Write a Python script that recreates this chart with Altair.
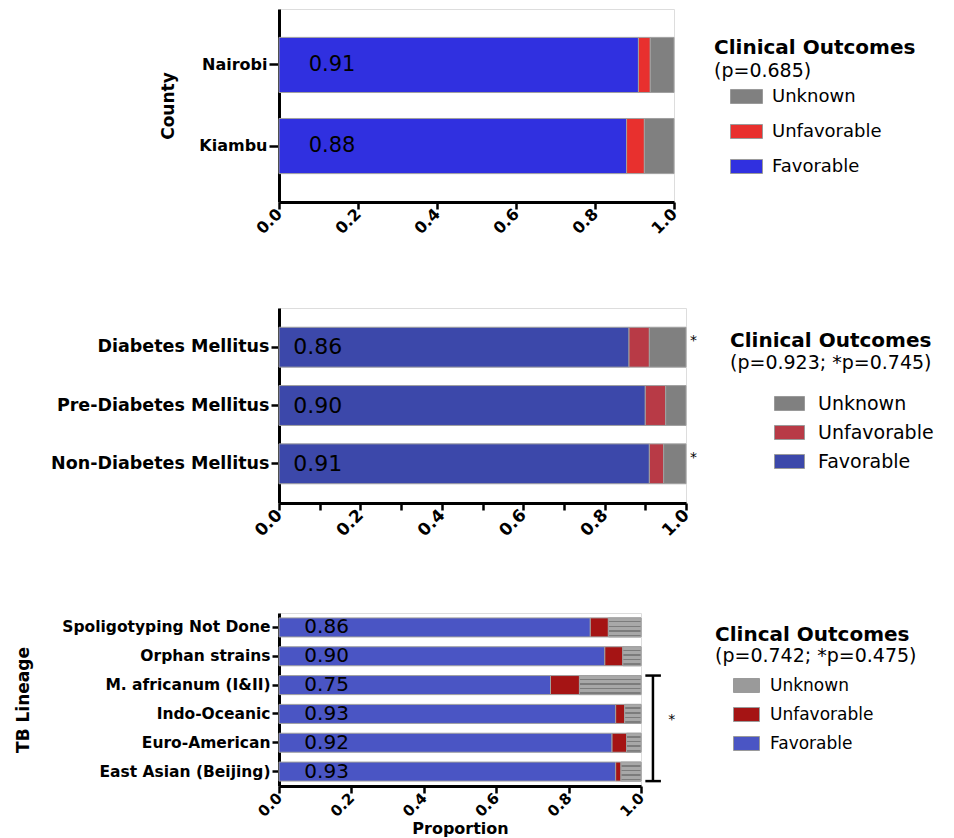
import altair as alt
import pandas as pd

# ---------------- data ----------------
legend_order = ["Unknown", "Unfavorable", "Favorable"]
stack_order = ["Favorable", "Unfavorable", "Unknown"]

county_cats = ["Nairobi", "Kiambu"]
county_fav = [0.91, 0.88]
county_unfav = [0.03, 0.045]
county_unk = [0.06, 0.075]

dm_cats = ["Diabetes Mellitus", "Pre-Diabetes Mellitus", "Non-Diabetes Mellitus"]
dm_fav = [0.86, 0.90, 0.91]
dm_unfav = [0.05, 0.05, 0.035]
dm_unk = [0.09, 0.05, 0.055]
dm_starred = ["Diabetes Mellitus", "Non-Diabetes Mellitus"]

tb_cats = ["Spoligotyping Not Done", "Orphan strains", "M. africanum (I&II)",
           "Indo-Oceanic", "Euro-American\u00a0", "East Asian (Beijing)"]
tb_fav = [0.86, 0.90, 0.75, 0.93, 0.92, 0.93]
tb_unfav = [0.05, 0.05, 0.08, 0.025, 0.04, 0.015]
tb_unk = [0.09, 0.05, 0.17, 0.045, 0.04, 0.055]
tb_bracket = ["M. africanum (I&II)", "East Asian (Beijing)"]

p_county = "(p=0.685)"
p_dm = "(p=0.923; *p=0.745)"
p_tb = "(p=0.742; *p=0.475)"

FONT = "DejaVu Sans"


def long_df(cats, fav, unfav, unk):
    rows = []
    for c, f, u, k in zip(cats, fav, unfav, unk):
        start = 0.0
        for name, v in zip(stack_order, [f, u, k]):
            rows.append({"cat": c, "outcome": name, "start": start,
                         "end": start + v, "value": v,
                         "ord": stack_order.index(name)})
            start += v
    return pd.DataFrame(rows)


def x_axis(minor, label_size, title=None):
    if minor:
        vals = [i / 10 for i in range(11)]
    else:
        vals = [i / 5 for i in range(6)]
    return alt.Axis(values=vals,
                    labelExpr="round(datum.value*10)%2==0 ? format(datum.value,'.1f') : ''",
                    labelAngle=-45, labelAlign="right", labelBaseline="middle",
                    labelFont=FONT, labelFontWeight="bold", labelFontSize=label_size,
                    labelColor="black", labelPadding=2,
                    domainColor="black", domainWidth=3, tickColor="black",
                    tickWidth=2.5, tickSize=7, grid=False,
                    title=title, titleFont=FONT, titleFontWeight="bold",
                    titleFontSize=16, titleColor="black", titlePadding=1)


def y_axis(label_size, tick_size, title=None, title_x=0, height=100):
    if title:
        kw = dict(title=title, titleX=title_x, titleY=height / 2,
                  titleBaseline="middle", titleFont=FONT,
                  titleFontWeight="bold", titleFontSize=17, titleColor="black")
    else:
        kw = dict(title=None)
    return alt.Axis(labelFont=FONT, labelFontWeight="bold",
                    labelFontSize=label_size, labelColor="black",
                    labelPadding=2, domainColor="black", domainWidth=3,
                    tickColor="black", tickWidth=2.5, tickSize=tick_size,
                    grid=False, labelLimit=400, **kw)


def ysc(cats, pin=None, pout=None):
    if pin is None:
        return alt.Scale(domain=cats)
    return alt.Scale(domain=cats, paddingInner=pin, paddingOuter=pout)


def panel(cats, fav, unfav, unk, colors, width, height, pin, pout,
          ylab_size, ytick, xlab_size, minor, leg, ptext, pxy, val_x, val_size,
          y_title=None, y_title_x=0, x_title=None):
    df = long_df(cats, fav, unfav, unk)
    yenc = alt.Y("cat:N", scale=ysc(cats, pin, pout),
                 axis=y_axis(ylab_size, ytick, y_title, y_title_x, height))
    xenc = alt.X("start:Q", scale=alt.Scale(domain=[0, 1], nice=False),
                 axis=x_axis(minor, xlab_size, x_title))
    bars = alt.Chart(df).mark_bar(stroke="#a0a0a0", strokeWidth=1).encode(
        y=yenc, x=xenc, x2="end:Q",
        color=alt.Color("outcome:N",
                        scale=alt.Scale(domain=legend_order, range=colors),
                        legend=alt.Legend(**leg)),
        order=alt.Order("ord:Q"),
    )
    labels = alt.Chart(df[df["outcome"] == "Favorable"]).mark_text(
        align="left", baseline="middle", font=FONT, fontSize=val_size,
        color="black").encode(
        y=alt.Y("cat:N", scale=ysc(cats)), x=alt.datum(val_x),
        text=alt.Text("value:Q", format=".2f"))
    ptxt = alt.Chart(pd.DataFrame({"t": [ptext]})).mark_text(
        align="left", baseline="middle", font=FONT, fontSize=19,
        color="black").encode(x=alt.value(pxy[0]), y=alt.value(pxy[1]),
                              text="t:N")
    return df, [bars, labels, ptxt]


def legend(x, y, sym_w, sym_h, sym_off, lab_off, row_pad, lab_size, title,
           title_pad):
    r = sym_h / sym_w
    path = f"M-1,-{r:.3f}L1,-{r:.3f}L1,{r:.3f}L-1,{r:.3f}Z"
    return dict(orient="none", legendX=x, legendY=y, title=title,
                titleFont=FONT, titleFontWeight="bold", titleFontSize=20,
                titleColor="black", titlePadding=title_pad, titleLimit=400,
                labelFont=FONT, labelFontSize=lab_size, labelColor="black",
                labelLimit=300,
                symbolType=path, symbolSize=sym_w * sym_w,
                symbolOffset=sym_off, labelOffset=lab_off, rowPadding=row_pad,
                symbolStrokeColor="#9a9a9a", symbolStrokeWidth=1,
                symbolOpacity=1)


RES = dict(color="independent", x="independent", y="independent")

# ---------------- top panel ----------------
W1, H1 = 395, 193
_, top_layers = panel(
    county_cats, county_fav, county_unfav, county_unk,
    ["#808080", "#e8302e", "#3030e0"], W1, H1, 0.32, 0.35, 16, 10, 16, False,
    legend(435, 29, 32, 14, 16, 9, 9, 18, "Clinical Outcomes", 22),
    p_county, (435, 62), 0.075, 21, y_title="County", y_title_x=-111)
top = alt.layer(*top_layers).properties(width=W1, height=H1)

# ---------------- middle panel ----------------
W2, H2 = 407, 195
_, mid_layers = panel(
    dm_cats, dm_fav, dm_unfav, dm_unk,
    ["#808080", "#b83a46", "#3c48aa"], W2, H2, 0.316, 0.33, 17.5, 8, 17, True,
    legend(451, 23, 30, 14, 44, 13, 3, 19, "Clinical Outcomes", 37),
    p_dm, (451, 55), 0.035, 22)
stars_mid = alt.Chart(pd.DataFrame({"cat": dm_starred, "s": ["*"] * 2})).mark_text(
    align="left", baseline="middle", font=FONT, fontSize=14, dx=4, dy=-6,
    color="black").encode(y=alt.Y("cat:N", scale=ysc(dm_cats)), x=alt.datum(1.0),
                          text="s:N")
mid = alt.layer(*mid_layers, stars_mid).properties(width=W2, height=H2)

# ---------------- bottom panel ----------------
W3, H3 = 362, 173
tb_df, bot_layers = panel(
    tb_cats, tb_fav, tb_unfav, tb_unk,
    ["#9a9a9a", "#a51414", "#4a55c4"], W3, H3, 0.34, 0.17, 15.5, 7, 15, True,
    legend(436, 12, 26, 14, 18, 10, 6, 17, "Clincal Outcomes", 27),
    p_tb, (436, 43), 0.07, 20, y_title="TB Lineage", y_title_x=-256,
    x_title="Proportion")

grad = alt.LinearGradient(
    gradient="linear", x1=0, y1=0, x2=0, y2=1,
    stops=[alt.GradientStop(offset=o, color=c) for o, c in [
        (0.00, "#a8a8a8"), (0.16, "#a8a8a8"), (0.16, "#7c7c7c"), (0.24, "#7c7c7c"),
        (0.24, "#a8a8a8"), (0.40, "#a8a8a8"), (0.40, "#7c7c7c"), (0.48, "#7c7c7c"),
        (0.48, "#a8a8a8"), (0.64, "#a8a8a8"), (0.64, "#7c7c7c"), (0.72, "#7c7c7c"),
        (0.72, "#a8a8a8"), (0.88, "#a8a8a8"), (0.88, "#7c7c7c"), (0.96, "#7c7c7c"),
        (0.96, "#a8a8a8"), (1.00, "#a8a8a8")]])
unk_overlay = alt.Chart(tb_df[tb_df["outcome"] == "Unknown"]).mark_bar(
    fill=grad, stroke="#a0a0a0", strokeWidth=1).encode(
    y=alt.Y("cat:N", scale=ysc(tb_cats)), x="start:Q", x2="end:Q")

br_top = pd.DataFrame({"cat": [tb_bracket[0]]})
br_bot = pd.DataFrame({"cat": [tb_bracket[1]]})
vline = alt.Chart(br_top).transform_calculate(cat2=f"'{tb_bracket[1]}'").mark_rule(
    color="black", strokeWidth=2.5).encode(
    x=alt.datum(1.033),
    y=alt.Y("cat:N", scale=ysc(tb_cats), bandPosition=0),
    y2=alt.Y2("cat2:N", bandPosition=1))
cap_top = alt.Chart(br_top).mark_rule(color="black", strokeWidth=2.5).encode(
    x=alt.datum(1.012), x2=alt.datum(1.055),
    y=alt.Y("cat:N", scale=ysc(tb_cats), bandPosition=0))
cap_bot = alt.Chart(br_bot).mark_rule(color="black", strokeWidth=2.5).encode(
    x=alt.datum(1.012), x2=alt.datum(1.055),
    y=alt.Y("cat:N", scale=ysc(tb_cats), bandPosition=1))
star_bot = alt.Chart(pd.DataFrame({"cat": ["Indo-Oceanic"], "s": ["*"]})).mark_text(
    align="left", baseline="middle", font=FONT, fontSize=14, dy=6,
    color="black").encode(y=alt.Y("cat:N", scale=ysc(tb_cats)), x=alt.datum(1.075),
                          text="s:N")

bot = alt.layer(*bot_layers, unk_overlay, vline, cap_top, cap_bot,
                star_bot).properties(width=W3, height=H3)

top_mid = alt.vconcat(top, mid, spacing=69).resolve_scale(**RES)
chart = alt.vconcat(top_mid, bot, spacing=72).resolve_scale(**RES).properties(
    padding={"left": 5, "top": 0, "right": 5, "bottom": 2}
).configure_view(strokeWidth=0).configure(background="white")

chart.save("out.html", embed_options={"renderer": "svg", "actions": False})
